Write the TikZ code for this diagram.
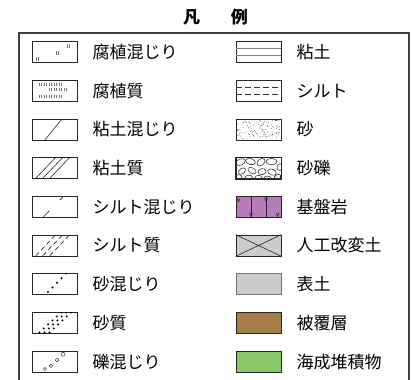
\documentclass[tikz,border=0pt]{standalone}
\usepackage{fontspec}
\setmainfont{Noto Sans CJK JP}
\usepackage{tikz}
\usetikzlibrary{positioning}
\definecolor{rockpurple}{RGB}{183,125,184}
\definecolor{soilgray}{RGB}{204,204,204}
\definecolor{coverbrown}{RGB}{168,126,73}
\definecolor{marinegreen}{RGB}{137,199,107}

\begin{document}
\begin{tikzpicture}[x=1pt, y=-1pt,
    swatch/.style={draw=black!85, line width=0.7pt, minimum width=45pt, minimum height=21pt, inner sep=0pt},
    entry/.style={right=15pt of #1, inner sep=0pt, font=\fontsize{17}{17}\selectfont},
    hatch/.style={black!85, line width=0.6pt},
    tickpair/.pic={\draw[black!55, line width=0.5pt] (-0.8,-1.6) -- (-0.8,1.6) (0.8,-1.6) -- (0.8,1.6);}]
    \useasboundingbox (0,0) rectangle (411,379);
    \node (title) at (215.5,17) [font=\fontsize{17}{17}\selectfont\bfseries] {凡\hspace{1.8em}例};
    \draw [black!75, line width=1.1pt] (19,390) |- (409,33) -- (409,390);

    \node (l1) [swatch] at (54.5,52) {};
    \node (l2) [swatch] at (54.5,90.7) {};
    \node (l3) [swatch] at (54.5,129.4) {};
    \node (l4) [swatch] at (54.5,168.1) {};
    \node (l5) [swatch] at (54.5,206.8) {};
    \node (l6) [swatch] at (54.5,245.5) {};
    \node (l7) [swatch] at (54.5,284.2) {};
    \node (l8) [swatch] at (54.5,322.9) {};
    \node (l9) [swatch] at (54.5,361.6) {};

    \node (r1) [swatch] at (258.5,52) {};
    \node (r2) [swatch] at (258.5,90.7) {};
    \node (r3) [swatch] at (258.5,129.4) {};
    \node (r4) [swatch] at (258.5,168.1) {};
    \node (r5) [swatch, fill=rockpurple] at (258.5,206.8) {};
    \node (r6) [swatch, fill=soilgray] at (258.5,245.5) {};
    \node (r7) [swatch, fill=soilgray, draw=black!55] at (258.5,284.2) {};
    \node (r8) [swatch, fill=coverbrown] at (258.5,322.9) {};
    \node (r9) [swatch, fill=marinegreen] at (258.5,361.6) {};

    \foreach \i/\t in {1/腐植混じり, 2/腐植質, 3/粘土混じり, 4/粘土質, 5/シルト混じり,
        6/シルト質, 7/砂混じり, 8/砂質, 9/礫混じり}
        \node (tl\i) [entry=l\i] {\t};
    \foreach \i/\t in {1/粘土, 2/シルト, 3/砂, 4/砂礫, 5/基盤岩,
        6/人工改変土, 7/表土, 8/被覆層, 9/海成堆積物}
        \node (tr\i) [entry=r\i] {\t};

    \begin{scope}[shift={(l1.center)}]
        \pic at (13.5,-6) {tickpair};
        \pic at (2.5,1) {tickpair};
        \pic at (-17.5,7) {tickpair};
    \end{scope}
    \begin{scope}[shift={(l2.center)}]
        \foreach \x in {-14.5,-9.5,-4.5,0.5,5.5} \pic at (\x,-6) {tickpair};
        \foreach \x in {-4,1,6,11} \pic at (\x,-1) {tickpair};
        \foreach \x in {-14,-9,-4,1,6} \pic at (\x,6) {tickpair};
    \end{scope}
    \begin{scope}[shift={(l3.center)}]
        \draw [hatch] (-9.5,10.5) -- (7.5,-10.5);
    \end{scope}
    \begin{scope}[shift={(l4.center)}]
        \foreach \x in {-19,-12,-5} \draw [hatch] (\x,10.5) -- (\x+20,-10.5);
    \end{scope}
    \begin{scope}[shift={(l5.center)}]
        \draw [hatch, dash pattern=on 9pt off 15pt] (-11.5,10.5) -- (9,-10.5);
    \end{scope}
    \begin{scope}[shift={(l6.center)}]
        \foreach \x in {-19,-12,-5} \draw [hatch, dash pattern=on 5pt off 3pt] (\x,10.5) -- (\x+20,-10.5);
    \end{scope}
    \begin{scope}[shift={(l7.center)}]
        \foreach \i in {0,...,4} \fill (-6.5+4.5*\i,7.8-4.6*\i) circle (1.1);
    \end{scope}
    \begin{scope}[shift={(l8.center)}]
        \clip (-22.5,-10.5) rectangle (22.5,10.5);
        \foreach \k in {0,1,2}
            \foreach \i in {0,...,5} \fill (-15+5*\k+4.3*\i,9.5-4*\i) circle (1.1);
    \end{scope}
    \begin{scope}[shift={(l9.center)}]
        \draw [black!80, line width=0.5pt] (-9.5,7.4) circle (1.6) (-3.5,4.2) circle (1.8)
            (2.5,-1.6) circle (1.9) (8.5,-7.4) circle (2);
    \end{scope}

    \begin{scope}[shift={(r1.center)}]
        \draw [black!50, line width=0.6pt] (-22.5,-3.5) -- (22.5,-3.5) (-22.5,3.5) -- (22.5,3.5);
    \end{scope}
    \begin{scope}[shift={(r2.center)}]
        \draw [black!80, line width=0.6pt, dash pattern=on 6pt off 3pt] (-22.5,-3.5) -- (22.5,-3.5) (-22.5,3.5) -- (22.5,3.5);
    \end{scope}
    \begin{scope}[shift={(r3.center)}]
        \pgfmathsetseed{11}
        \foreach \k in {1,...,120} \fill [black!75] (rand*21.5,rand*9.5) circle (0.4);
    \end{scope}
    \begin{scope}[shift={(r4.center)}]
        \clip (-22.5,-10.5) rectangle (22.5,10.5);
        \foreach \x/\y/\a/\b/\r in {-18/-6/5/3.2/20, -8/-6.5/5/3/-15, 2.5/-6/4.5/3.2/35, 13/-6.5/5.5/3.2/0,
            21.5/-1/3.5/3/60, -16.5/3/4/2.6/40, -6.5/2.5/4.5/2.8/-30, 3.5/3.5/4/3/10, 13.5/4/4.5/3/-20,
            -20/9/3.5/2.5/0, -10/9.5/4/2.4/10, 0/9.5/3.5/2.2/0, 9/10/3.5/2/0, 19/9/3.5/2.4/30}
            \draw [black!80, line width=0.6pt, rotate around={\r:(\x,\y)}] (\x,\y) ellipse (\a pt and \b pt);
    \end{scope}
    \draw [swatch] (r4.south west) rectangle (r4.north east);
    \begin{scope}[shift={(r5.center)}]
        \draw [hatch] (-7.5,-10.5) -- (-7.5,10.5) (7.5,-10.5) -- (7.5,10.5);
        \draw [hatch] (-21.5,-8.5) -- (-20,-5) -- (-18.5,-8.5);
        \draw [hatch] (-9,6) -- (-7.5,9.5) -- (-6,6);
        \draw [hatch] (6,-9) -- (7.5,-5.5) -- (9,-9);
        \draw [hatch] (17.5,6) -- (19,9.5) -- (20.5,6);
    \end{scope}
    \draw [hatch] (r6.north west) -- (r6.south east) (r6.south west) -- (r6.north east);
\end{tikzpicture}
\end{document}
